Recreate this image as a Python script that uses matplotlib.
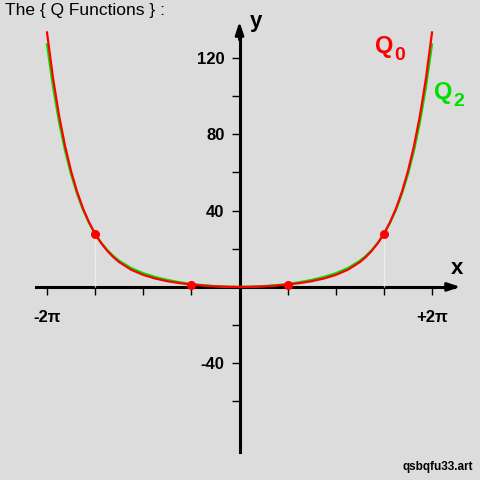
import numpy as np
import matplotlib.pyplot as plt

plt.rcParams['font.family'] = ['Liberation Sans', 'DejaVu Sans']

# x positions in units of pi/16
x16 = [-32, -31, -30, -29, -28, -27, -26, -25, -24, -23, -22, -21, -20,
       -18, -16, -14, -12, -10, -8, -6, -4, -2, 0,
       2, 4, 6, 8, 10, 12, 14, 16, 18,
       20, 21, 22, 23, 24, 25, 26, 27, 28, 29, 30, 31, 32]
q0 = [133.4, 109.5, 89.9, 73.9, 60.7, 49.9, 41.0, 33.8, 27.8, 23.0, 19.0, 15.7, 13.0,
      9.0, 6.3, 4.4, 3.0, 2.0, 1.25, 0.7, 0.31, 0.08, 0.0,
      0.08, 0.31, 0.7, 1.25, 2.0, 3.0, 4.4, 6.3, 9.0,
      13.0, 15.7, 19.0, 23.0, 27.8, 33.8, 41.0, 49.9, 60.7, 73.9, 89.9, 109.5, 133.4]
q2 = [127.1, 104.8, 86.5, 71.4, 59.0, 48.8, 40.3, 33.5, 27.8, 23.2, 19.4, 16.3, 13.7,
      9.9, 7.2, 5.2, 3.7, 2.5, 1.55, 0.9, 0.41, 0.13, 0.0,
      0.13, 0.41, 0.9, 1.55, 2.5, 3.7, 5.2, 7.2, 9.9,
      13.7, 16.3, 19.4, 23.2, 27.8, 33.5, 40.3, 48.8, 59.0, 71.4, 86.5, 104.8, 127.1]

dot_x16 = [-24, -8, 8, 24]
dot_y = [27.8, 1.25, 1.25, 27.8]

yticks = [-60, -40, -20, 20, 40, 60, 80, 100, 120]
ylabels = ['', '-40', '', '', '40', '', '80', '', '120']
xticks_half_pi = [-4, -3, -2, -1, 0, 1, 2, 3, 4]
xlabels = ['-2π', '', '', '', '', '', '', '', '+2π']

bg = '#dcdcdc'
fig = plt.figure(figsize=(4.8, 4.8), dpi=100, facecolor=bg)
ax = fig.add_axes([0, 0, 1, 1], facecolor=bg)

x = np.array(x16) * np.pi / 16
dx = np.array(dot_x16) * np.pi / 16

ax.vlines(dx, 0, dot_y, colors='white', linestyles=(0, (1, 1)), lw=0.9, zorder=2)
ax.plot(x, q2, color='#00e000', lw=1.6, zorder=3)
ax.plot(x, q0, color='red', lw=1.6, zorder=4)
ax.plot(dx, dot_y, 'o', color='red', ms=5.5, zorder=5)

ax.set_xlim(-7.817, 7.849)
ax.set_ylim(-101.2, 150.4)

for s in ['top', 'right']:
    ax.spines[s].set_visible(False)
ax.spines['left'].set_position(('data', 0))
ax.spines['bottom'].set_position(('data', 0))
ax.spines['left'].set_bounds(-86.5, 134)
ax.spines['bottom'].set_bounds(-6.64, 7.0)
for s in ['left', 'bottom']:
    ax.spines[s].set_linewidth(2.2)
    ax.spines[s].set_zorder(1)

ax.annotate('', xy=(7.3, 0), xytext=(6.75, 0),
            arrowprops=dict(arrowstyle='-|>,head_length=0.75,head_width=0.25',
                            color='black', lw=2))
ax.annotate('', xy=(0, 140.5), xytext=(0, 128),
            arrowprops=dict(arrowstyle='-|>,head_length=0.75,head_width=0.25',
                            color='black', lw=2))

ax.set_xticks(np.array(xticks_half_pi) * np.pi / 2, labels=xlabels)
ax.set_yticks(yticks, labels=ylabels)
ax.tick_params(axis='both', direction='out', length=5.8, width=1.0,
               labelsize=12)
ax.tick_params(axis='x', pad=11)
ax.tick_params(axis='y', pad=5)
for lab in ax.get_xticklabels() + ax.get_yticklabels():
    lab.set_fontweight('bold')

def px(xp, yp):
    return xp / 480, 1 - yp / 480

fig.text(*px(5, 11), 'The { Q Functions } :', fontsize=12.5, va='center', ha='left')
fig.text(*px(250, 21), 'y', fontsize=16, fontweight='bold', va='center', ha='left')
fig.text(*px(451, 269), 'x', fontsize=16, fontweight='bold', va='center', ha='left')
fig.text(*px(375, 46), 'Q', fontsize=17, fontweight='bold', color='red', va='center', ha='left')
fig.text(*px(394, 55), '0', fontsize=14, fontweight='bold', color='red', va='center', ha='left')
fig.text(*px(434, 93), 'Q', fontsize=17, fontweight='bold', color='#00e000', va='center', ha='left')
fig.text(*px(453, 102), '2', fontsize=14, fontweight='bold', color='#00e000', va='center', ha='left')
fig.text(*px(473, 467), 'qsbqfu33.art', fontsize=8.5, fontweight='bold', va='center', ha='right')

fig.savefig('out.png', dpi=100, facecolor=bg)
